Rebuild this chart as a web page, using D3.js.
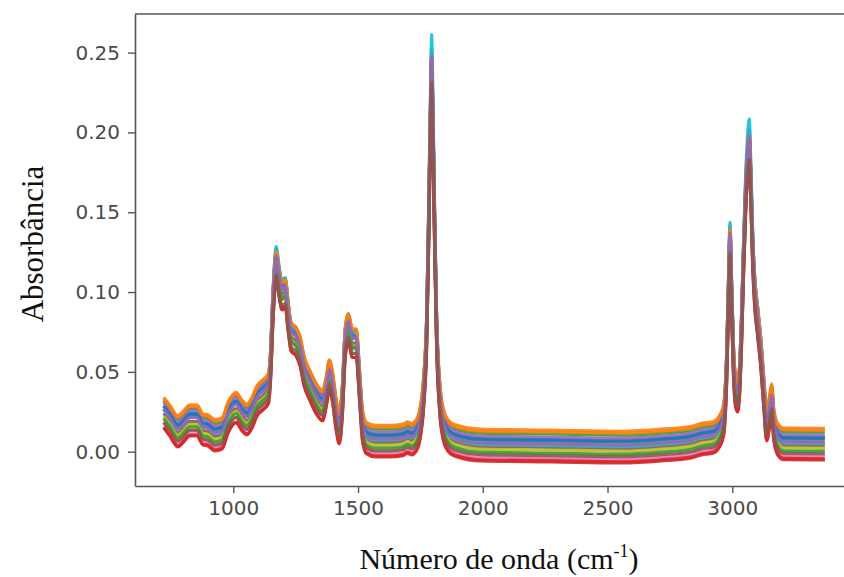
<!DOCTYPE html>
<html>
<head>
<meta charset="utf-8">
<script src="https://cdn.jsdelivr.net/npm/d3@7"></script>
<style>
  body { margin: 0; background: #fff; }
  .tick text { font-family: "DejaVu Sans", sans-serif; font-size: 20px; fill: #4a4a4a; }
  .tick line { stroke: #555; stroke-width: 1.4; }
  .domain { stroke: #555; stroke-width: 1.6; }
</style>
</head>
<body>
<svg id="ftir" width="844" height="577"></svg>
<script>
// mean spectrum
let waveNumbers = [721, 745, 778, 798, 826, 854, 878, 898, 926, 955, 979, 1011, 1035, 1055, 1075, 1095,
  1119, 1140, 1148, 1160, 1172, 1184, 1196, 1208, 1220, 1232, 1252, 1268, 1284, 1308, 1333, 1357,
  1373, 1385, 1397, 1413, 1425, 1437, 1449, 1461, 1477, 1493, 1505, 1518, 1534, 1570, 1630, 1680,
  1698, 1715, 1731, 1747, 1763, 1775, 1783, 1791, 1795, 1799, 1807, 1815, 1827, 1843, 1863, 1891,
  1992, 2273, 2555, 2716, 2836, 2877, 2925, 2949, 2965, 2977, 2985, 2991, 2997, 3005, 3013, 3021,
  3029, 3037, 3045, 3053, 3061, 3068, 3074, 3082, 3090, 3102, 3114, 3126, 3138, 3150, 3158, 3166,
  3182, 3206, 3371];
let absorbance = [0.0249, 0.0199, 0.0130, 0.0155, 0.0199, 0.0199, 0.0142, 0.0136, 0.0105, 0.0117, 0.0217, 0.0280, 0.0230, 0.0205, 0.0249, 0.0324,
  0.0362, 0.0399, 0.0512, 0.0950, 0.1190, 0.1070, 0.0990, 0.1010, 0.0857, 0.0731, 0.0700, 0.0637, 0.0512, 0.0418, 0.0336, 0.0293,
  0.0387, 0.0490, 0.0418, 0.0230, 0.0148, 0.0324, 0.0700, 0.0790, 0.0690, 0.0690, 0.0449, 0.0167, 0.0086, 0.0067, 0.0067, 0.0075,
  0.0090, 0.0080, 0.0098, 0.0167, 0.0380, 0.0763, 0.1400, 0.2150, 0.2420, 0.2150, 0.1400, 0.0763, 0.0355, 0.0167, 0.0098, 0.0070,
  0.0042, 0.0036, 0.0029, 0.0042, 0.0061, 0.0080, 0.0092, 0.0130, 0.0200, 0.0510, 0.1000, 0.1330, 0.1000, 0.0575, 0.0387, 0.0349,
  0.0449, 0.0763, 0.1201, 0.1577, 0.1828, 0.1930, 0.1702, 0.1264, 0.1013, 0.0825, 0.0637, 0.0387, 0.0167, 0.0261, 0.0335, 0.0180,
  0.0080, 0.0050, 0.0048];

let sampleShift = [0.0040, 0.0100, 0.0075, -0.0100, 0.0055, -0.0010, -0.0080, 0.0020,
  -0.0025, 0.0000, 0.0035, 0.0088, -0.0045, -0.0092, 0.0010, -0.0060];
let sampleGain = [1.00, 0.97, 0.99, 1.00, 1.02, 1.00, 1.05, 1.00,
  0.99, 1.08, 1.00, 0.98, 1.01, 0.99, 1.02, 0.98];

let xTicks = [1000, 1500, 2000, 2500, 3000];
let yTicks = [0.00, 0.05, 0.10, 0.15, 0.20, 0.25];

let svg = d3.select("svg#ftir");
let plot = { left: 135, right: 860, top: 14, bottom: 486 };

let xScale = d3.scaleLinear().domain([606, 3512]).range([plot.left, plot.right]);
let yScale = d3.scaleLinear().domain([-0.0215, 0.2742]).range([plot.bottom, plot.top]);

// top spine (right one falls outside the picture)
svg.append("line")
  .attr("x1", plot.left).attr("x2", plot.right)
  .attr("y1", plot.top).attr("y2", plot.top)
  .attr("stroke", "#555").attr("stroke-width", 1.6);

// X axis
svg.append("g")
  .attr("class", "x axis")
  .attr("transform", "translate(0," + plot.bottom + ")")
  .call(d3.axisBottom(xScale).tickValues(xTicks).tickFormat(d3.format("d"))
    .tickSize(7).tickSizeOuter(0).tickPadding(8));

// Y axis
svg.append("g")
  .attr("class", "y axis")
  .attr("transform", "translate(" + plot.left + ",0)")
  .call(d3.axisLeft(yScale).tickValues(yTicks).tickFormat(d3.format(".2f"))
    .tickSize(7).tickSizeOuter(0).tickPadding(8));

// spectra
let colors = d3.schemeCategory10;
let spectra = svg.append("g").attr("id", "spectra");
let line = d3.line()
  .x(d => xScale(d.x))
  .y(d => yScale(d.y))
  .curve(d3.curveMonotoneX);

sampleShift.forEach((shift, i) => {
  let pts = waveNumbers.map((w, j) => ({ x: w, y: absorbance[j] * sampleGain[i] + shift }));
  spectra.append("path")
    .datum(pts)
    .attr("fill", "none")
    .attr("stroke", colors[i % 10])
    .attr("stroke-width", 3.2)
    .attr("stroke-linejoin", "round")
    .attr("opacity", 0.9)
    .attr("d", line);
});

// axis titles
svg.append("text")
  .attr("x", 499).attr("y", 569)
  .attr("text-anchor", "middle")
  .style("font-family", "'Liberation Serif', 'Times New Roman', serif")
  .style("font-size", "30px")
  .style("fill", "#111")
  .call(t => {
    t.append("tspan").text("Número de onda (cm");
    t.append("tspan").attr("dy", -12).style("font-size", "18px").text("-1");
    t.append("tspan").attr("dy", 12).text(")");
  });

svg.append("text")
  .attr("transform", "translate(43,244) rotate(-90)")
  .attr("text-anchor", "middle")
  .style("font-family", "'Liberation Serif', 'Times New Roman', serif")
  .style("font-size", "31px")
  .style("fill", "#111")
  .text("Absorbância");
</script>
</body>
</html>
